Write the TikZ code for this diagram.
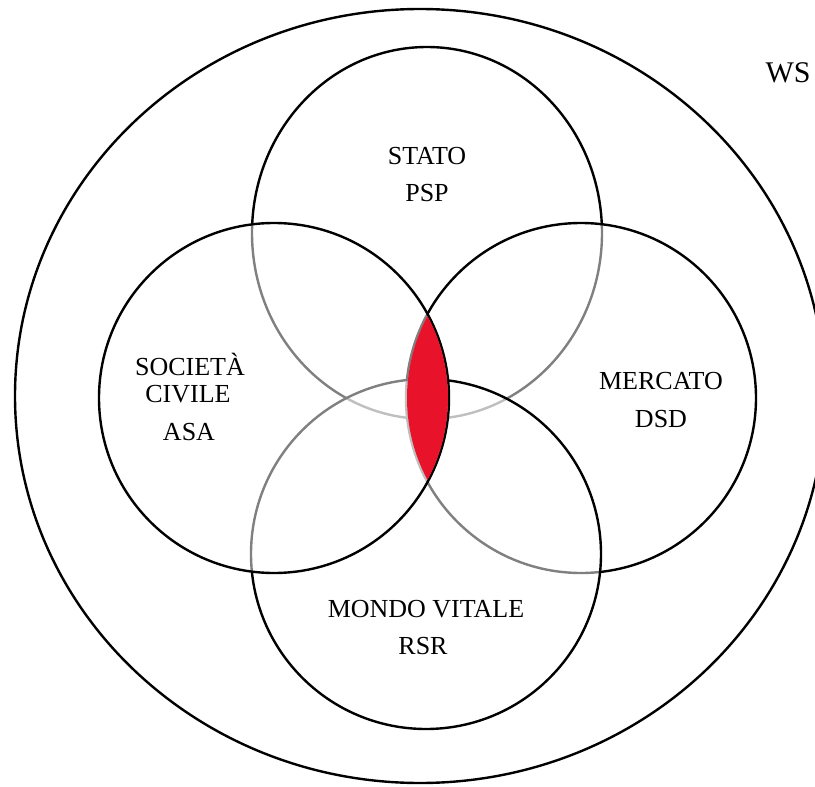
\documentclass[tikz,border=0pt]{standalone}
\usepackage{fontspec}
\setmainfont{Liberation Serif}
\definecolor{lensred}{HTML}{E8132A}
\begin{document}
\begin{tikzpicture}[x=1pt,y=-1pt,
  ring/.style={draw=black,line width=2.4pt,fill=white,fill opacity=0.5,draw opacity=1},
  lbl/.style={font=\fontsize{26}{28}\selectfont,inner sep=0pt,anchor=base},
  biglbl/.style={font=\fontsize{30}{32}\selectfont,inner sep=0pt,anchor=base}]
\fill[white] (0,0) rectangle (815,787);
\useasboundingbox (0,0) rectangle (815,787);
\clip (0,0) rectangle (815,787);
% outer world
\draw[line width=2.4pt] (420,396) ellipse [x radius=405pt, y radius=387pt];
% four spheres (order gives the greyed overlaps)
\path[ring] (427,233) ellipse [x radius=175pt, y radius=186pt];
\path[ring] (581,398) circle [radius=175pt];
\path[ring] (426,554) circle [radius=175pt];
\path[ring] (274,398) circle [radius=175pt];
% red lens
\begin{scope}
  \clip (274,398) circle [radius=174pt];
  \fill[lensred] (581,398) circle [radius=174pt];
\end{scope}
% labels
\node[lbl] (stato) at (427,164) {STATO};
\node[lbl] (psp) at (427,201) {PSP};
\node[lbl] (soc) at (190,375) {SOCIETÀ};
\node[lbl] (civ) at (188,402) {CIVILE};
\node[lbl] (asa) at (189,440) {ASA};
\node[lbl] (merc) at (661,389) {MERCATO};
\node[lbl] (dsd) at (661,427) {DSD};
\node[lbl] (mondo) at (426,617) {MONDO VITALE};
\node[lbl] (rsr) at (423,654) {RSR};
\node[biglbl] (ws) at (788,82) {WS};
\end{tikzpicture}
\end{document}
